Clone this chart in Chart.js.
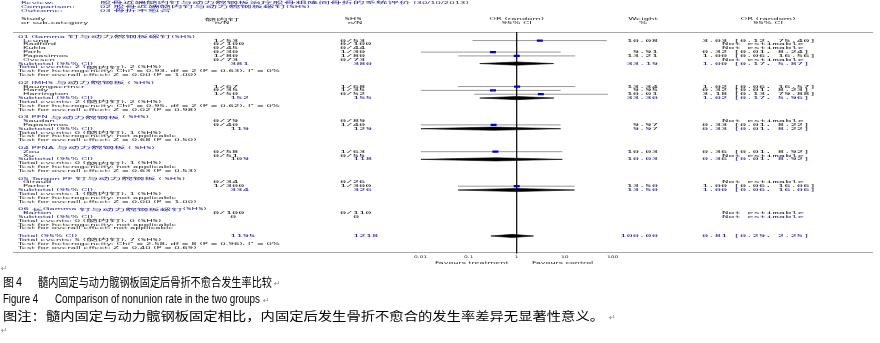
<!DOCTYPE html>
<html>
<head>
<meta charset="utf-8">
<script src="https://cdn.jsdelivr.net/npm/chart.js@4.4.1/dist/chart.umd.min.js"></script>
<style>
  html, body { margin: 0; padding: 0; background: #fff; }
  #forest { display: block; }
</style>
</head>
<body>
<canvas id="forest" width="880" height="343"></canvas>
<script>
// ---- data ----
const reviewTitle = '股骨近端髓内钉与动力髋钢板治疗股骨粗隆间骨折的系统评价 (30/10/2013)';
const comparisonTitle = '02 股骨近端髓内钉与动力髋钢板螺钉(SHS)';
const outcomeTitle = '03 骨折不愈合';

const groupNames = [
  '01 Gamma 钉与动力髋钢板螺钉(SHS)',
  '02 IMHS 与动力髋钢板 ( SHS)',
  '03 PFN 与动力髋钢板 ( SHS)',
  '04 PFNA 与动力髋钢板 ( SHS)',
  '05 Targon PF 钉与动力髋钢板 ( SHS)',
  '06 长Gamma 钉与动力髋钢板螺钉(SHS)'
];

const studyNames = ['Leung', 'Radford', 'Kukla', 'Park', 'Papasimos', 'Ovesen',
  'Baumgaertner', 'Hardy', 'Harrington', 'Saudan', 'Papasimos', 'Zou', 'Xu',
  'Giraud', 'Parker', 'Barton'];
const studyGroup = [0, 0, 0, 0, 0, 0, 1, 1, 1, 2, 2, 3, 3, 4, 4, 5];
const imnEvents = [1, 0, 0, 0, 1, 0, 1, 0, 1, 0, 0, 0, 0, 0, 1, 0];
const imnTotal = [53, 100, 45, 30, 80, 73, 67, 35, 50, 79, 40, 58, 51, 34, 300, 100];
const shsEvents = [0, 0, 0, 1, 1, 0, 1, 1, 0, 0, 1, 1, 0, 0, 1, 0];
const shsTotal = [53, 100, 44, 30, 80, 73, 68, 35, 52, 89, 40, 63, 55, 26, 300, 110];
const studyWeight = [10.08, null, null, 9.91, 13.21, null, 13.34, 9.95, 10.01, null, 9.97, 10.03, null, null, 13.50, null];
const studyOR = [3.03, null, null, 0.32, 1.00, null, 1.02, 0.32, 3.18, null, 0.33, 0.36, null, null, 1.00, null];
const studyLow = [0.12, null, null, 0.01, 0.06, null, 0.06, 0.01, 0.13, null, 0.01, 0.01, null, null, 0.06, null];
const studyHigh = [75.40, null, null, 8.24, 16.56, null, 16.57, 8.23, 79.88, null, 8.22, 8.92, null, null, 16.06, null];

const subN1 = [381, 152, 119, 109, 334, 0];
const subN2 = [380, 155, 129, 118, 326, 0];
const subWeight = [33.19, 33.30, 9.97, 10.03, 13.50, null];
const subOR = [1.00, 1.02, 0.33, 0.36, 1.00, null];
const subLow = [0.17, 0.17, 0.01, 0.01, 0.06, null];
const subHigh = [5.87, 5.96, 8.22, 8.92, 16.06, null];
const subEvents1 = [2, 2, 0, 0, 1, 0];
const subEvents2 = [2, 2, 1, 1, 1, 0];
const heteroTests = ['Chi² = 0.93, df = 2 (P = 0.63), I² = 0%', 'Chi² = 0.95, df = 2 (P = 0.62), I² = 0%',
  'not applicable', 'not applicable', 'not applicable', 'not applicable'];
const overallTests = ['Z = 0.00 (P = 1.00)', 'Z = 0.02 (P = 0.98)', 'Z = 0.68 (P = 0.50)',
  'Z = 0.63 (P = 0.53)', 'Z = 0.00 (P = 1.00)', 'not applicable'];

const totalN1 = 1195;
const totalN2 = 1218;
const totalWeight = 100.00;
const totalOR = [0.81, 0.29, 2.25];
const totalEvents = [5, 7];
const totalHetero = 'Chi² = 2.58, df = 8 (P = 0.96), I² = 0%';
const totalOverall = 'Z = 0.40 (P = 0.69)';

const axisTicks = [0.01, 0.1, 1, 10, 100];

// ---- layout ----
const ROW0 = 31.7;      // pixel of first group header
const PITCH = 3.975;    // pixels per text row
const W = 880, H = 343;
const X = {
  head: 21, group: 18, study: 23, review: 100,
  n1Head: 222, n1Val: 213, n1Sub: 230,
  n2Head: 353, n2Val: 340, n2Sub: 353,
  wHead: 643, wRight: 658,
  orHead: 768, orText: 702, notEst: 763
};
const INK = '#262626';
const NAVY = '#24249a';
const RULE = '#a8a8a8';

// rows: build sequential row indices
const rows = [];
const studyRow = [];
const subRow = [];
let r = 0;
groupNames.forEach((g, gi) => {
  rows.push({ r: r++, kind: 'group', text: g });
  studyNames.forEach((s, si) => {
    if (studyGroup[si] === gi) { studyRow[si] = r; rows.push({ r: r++, kind: 'study', i: si }); }
  });
  subRow[gi] = r;
  rows.push({ r: r++, kind: 'subtotal', g: gi });
  rows.push({ r: r++, kind: 'events', a: subEvents1[gi], b: subEvents2[gi] });
  rows.push({ r: r++, kind: 'stat', text: 'Test for heterogeneity: ' + heteroTests[gi] });
  rows.push({ r: r++, kind: 'stat', text: 'Test for overall effect: ' + overallTests[gi] });
  r++;
});
const totalRow = r;
rows.push({ r: r++, kind: 'total' });
rows.push({ r: r++, kind: 'events', a: totalEvents[0], b: totalEvents[1] });
rows.push({ r: r++, kind: 'stat', text: 'Test for heterogeneity: ' + totalHetero });
rows.push({ r: r++, kind: 'stat', text: 'Test for overall effect: ' + totalOverall });

const pxToRow = p => (p - ROW0) / PITCH;

// ---- datasets ----
const ciData = [];
const squareData = [];
studyNames.forEach((s, i) => {
  if (studyOR[i] == null) return;
  ciData.push({ x: studyLow[i], y: studyRow[i] }, { x: studyHigh[i], y: studyRow[i] }, { x: null, y: null });
  squareData.push({ x: studyOR[i], y: studyRow[i] });
});

const DH = 0.42; // diamond half height in rows
function diamond(est, lo, hi, row) {
  return [{ x: lo, y: row }, { x: est, y: row - DH }, { x: hi, y: row }, { x: est, y: row + DH }, { x: lo, y: row }];
}
const diamondSets = [];
subOR.forEach((v, gi) => {
  if (v == null) return;
  diamondSets.push(diamond(v, subLow[gi], subHigh[gi], subRow[gi]));
});
diamondSets.push(diamond(totalOR[0], totalOR[1], totalOR[2], totalRow));

const datasets = [
  {
    data: squareData, order: 0, pointStyle: 'line', pointRadius: 3,
    pointBorderWidth: 2.2, pointBorderColor: '#0000e0', pointBackgroundColor: '#0000e0'
  },
  {
    data: [{ x: 1, y: pxToRow(26.7) }, { x: 1, y: pxToRow(256.5) }], order: 1, showLine: true,
    borderColor: '#000', borderWidth: 1.2, pointRadius: 0
  },
  ...diamondSets.map(d => ({
    data: d, order: 2, showLine: true, fill: 'shape', borderColor: '#000', borderWidth: 0.6,
    backgroundColor: '#000', pointRadius: 0, tension: 0
  })),
  {
    data: ciData, order: 5, showLine: true, spanGaps: false,
    borderColor: '#999', borderWidth: 1, pointRadius: 0
  }
];

// ---- text helpers ----
const CJK_RE = /([\u2E80-\u9FFF\u3000-\u303F\uFF00-\uFFEF]+)/;
const STYLES = {
  lab: { font: '8.5px "DejaVu Sans"', sy: 0.47, cjk: '11.5px "Noto Sans CJK SC"', cjkSy: 0.34 },
  num: { font: '10.5px "DejaVu Sans Mono"', sy: 0.39, cjk: '11.5px "Noto Sans CJK SC"', cjkSy: 0.34 },
  tick: { font: '6px "DejaVu Sans"', sy: 0.6, cjk: '6px "Noto Sans CJK SC"', cjkSy: 0.6 },
  fav: { font: '8px "DejaVu Sans"', sy: 0.5, cjk: '8px "Noto Sans CJK SC"', cjkSy: 0.5 }
};

function drawText(ctx, str, x, y, align, color, style) {
  const st = STYLES[style || 'lab'];
  const runs = String(str).split(CJK_RE).filter(p => p.length).map(p => {
    const cjk = /[\u2E80-\u9FFF\u3000-\u303F\uFF00-\uFFEF]/.test(p);
    return { text: p, font: cjk ? st.cjk : st.font, sy: cjk ? st.cjkSy : st.sy };
  });
  runs.forEach(run => { ctx.font = run.font; run.w = ctx.measureText(run.text).width; });
  const total = runs.reduce((a, b) => a + b.w, 0);
  let cx = align === 'center' ? x - total / 2 : align === 'right' ? x - total : x;
  ctx.fillStyle = color || INK;
  ctx.textAlign = 'left';
  ctx.textBaseline = 'middle';
  runs.forEach(run => {
    ctx.save();
    ctx.translate(cx, y);
    ctx.scale(1, run.sy);
    ctx.font = run.font;
    ctx.fillText(run.text, 0, 0);
    ctx.restore();
    cx += run.w;
  });
}

// draws a caption piece squeezed to fit [x0, x1]
function drawFit(ctx, str, x0, x1, y, font) {
  ctx.save();
  ctx.font = font;
  ctx.textAlign = 'left';
  ctx.textBaseline = 'middle';
  ctx.fillStyle = '#000';
  const w = ctx.measureText(str).width;
  ctx.translate(x0, y);
  ctx.scale((x1 - x0) / w, 1);
  ctx.fillText(str, 0, 0);
  ctx.restore();
}

const fmtOR = (v, lo, hi) => `${v.toFixed(2)} [${lo.toFixed(2)}, ${hi.toFixed(2)}]`;

const forestText = {
  id: 'forestText',
  beforeDatasetsDraw(chart) {
    const ctx = chart.ctx;
    const y = chart.scales.y;
    ctx.save();
    ctx.strokeStyle = RULE;
    ctx.lineWidth = 1;
    [y.getPixelForValue(pxToRow(26.7)), y.getPixelForValue(pxToRow(255))].forEach(p => {
      ctx.beginPath();
      ctx.moveTo(13, Math.round(p) + 0.5);
      ctx.lineTo(873, Math.round(p) + 0.5);
      ctx.stroke();
    });
    ctx.restore();
  },
  afterDraw(chart) {
    const ctx = chart.ctx;
    const xs = chart.scales.x;
    const ys = chart.scales.y;
    const py = row => ys.getPixelForValue(row);

    // review header
    drawText(ctx, 'Review:', X.head, 2.7, 'left', NAVY);
    drawText(ctx, reviewTitle, X.review, 2.7, 'left', NAVY);
    drawText(ctx, 'Comparison:', X.head, 6.7, 'left', NAVY);
    drawText(ctx, comparisonTitle, X.review, 6.7, 'left', NAVY);
    drawText(ctx, 'Outcome:', X.head, 10.7, 'left', NAVY);
    drawText(ctx, outcomeTitle, X.review, 10.7, 'left', NAVY);

    // column headers
    const h1 = 19.3, h2 = 23.3;
    drawText(ctx, 'Study', X.head, h1, 'left');
    drawText(ctx, 'or sub-category', X.head, h2, 'left');
    drawText(ctx, '髓内钉', X.n1Head, h1, 'center');
    drawText(ctx, 'n/N', X.n1Head, h2, 'center');
    drawText(ctx, 'SHS', X.n2Head, h1, 'center');
    drawText(ctx, 'n/N', X.n2Head + 2, h2, 'center');
    drawText(ctx, 'OR (random)', xs.getPixelForValue(1), h1, 'center');
    drawText(ctx, '95% CI', xs.getPixelForValue(1), h2, 'center');
    drawText(ctx, 'Weight', X.wHead, h1, 'center');
    drawText(ctx, '%', X.wHead, h2, 'center');
    drawText(ctx, 'OR (random)', X.orHead, h1, 'center');
    drawText(ctx, '95% CI', X.orHead, h2, 'center');

    rows.forEach(row => {
      const yy = py(row.r);
      if (row.kind === 'group') {
        drawText(ctx, row.text, X.group, yy, 'left', NAVY);
      } else if (row.kind === 'study') {
        const i = row.i;
        drawText(ctx, studyNames[i], X.study, yy, 'left');
        drawText(ctx, `${imnEvents[i]}/${imnTotal[i]}`, X.n1Val, yy, 'left', INK, 'num');
        drawText(ctx, `${shsEvents[i]}/${shsTotal[i]}`, X.n2Val, yy, 'left', INK, 'num');
        if (studyOR[i] == null) {
          drawText(ctx, 'Not estimable', X.notEst, yy, 'center', INK, 'num');
        } else {
          drawText(ctx, studyWeight[i].toFixed(2), X.wRight, yy, 'right', INK, 'num');
          drawText(ctx, fmtOR(studyOR[i], studyLow[i], studyHigh[i]), X.orText, yy, 'left', INK, 'num');
        }
      } else if (row.kind === 'subtotal') {
        const g = row.g;
        drawText(ctx, 'Subtotal (95% CI)', X.group, yy, 'left', NAVY);
        drawText(ctx, String(subN1[g]), X.n1Sub, yy, 'left', NAVY, 'num');
        drawText(ctx, String(subN2[g]), X.n2Sub, yy, 'left', NAVY, 'num');
        if (subOR[g] == null) {
          drawText(ctx, 'Not estimable', X.notEst, yy, 'center', NAVY, 'num');
        } else {
          drawText(ctx, subWeight[g].toFixed(2), X.wRight, yy, 'right', NAVY, 'num');
          drawText(ctx, fmtOR(subOR[g], subLow[g], subHigh[g]), X.orText, yy, 'left', NAVY, 'num');
        }
      } else if (row.kind === 'total') {
        drawText(ctx, 'Total (95% CI)', X.group, yy, 'left', NAVY);
        drawText(ctx, String(totalN1), X.n1Sub, yy, 'left', NAVY, 'num');
        drawText(ctx, String(totalN2), X.n2Sub, yy, 'left', NAVY, 'num');
        drawText(ctx, totalWeight.toFixed(2), X.wRight, yy, 'right', NAVY, 'num');
        drawText(ctx, fmtOR(totalOR[0], totalOR[1], totalOR[2]), X.orText, yy, 'left', NAVY, 'num');
      } else if (row.kind === 'events') {
        drawText(ctx, `Total events: ${row.a} (髓内钉), ${row.b} (SHS)`, X.group, yy, 'left');
      } else {
        drawText(ctx, row.text, X.group, yy, 'left');
      }
    });

    // axis labels
    axisTicks.forEach(t => {
      drawText(ctx, String(t), xs.getPixelForValue(t), 257.3, 'center', INK, 'tick');
    });
    const mid = xs.getPixelForValue(1);
    drawText(ctx, 'Favours treatment', mid - 45, 262.5, 'center', INK, 'fav');
    drawText(ctx, 'Favours control', mid + 46, 262.5, 'center', INK, 'fav');

    // captions under the figure
    const cjk = '12px "Noto Sans CJK SC"';
    const lat = '13.5px "Liberation Sans Narrow", "Liberation Sans"';
    drawFit(ctx, '图', 3, 14, 282, cjk);
    drawFit(ctx, '4', 16, 22, 282.5, lat);
    drawFit(ctx, '髓内固定与动力髋钢板固定后骨折不愈合发生率比较', 38, 272, 282, cjk);
    drawFit(ctx, 'Figure 4', 3, 38, 299.5, lat);
    drawFit(ctx, 'Comparison of nonunion rate in the two groups', 55, 260, 299.5, lat);
    drawFit(ctx, '图注：髓内固定与动力髋钢板固定相比，内固定后发生骨折不愈合的发生率差异无显著性意义。', 3, 604, 316, cjk);

    ctx.save();
    ctx.fillStyle = '#8a8a8a';
    ctx.font = '8px "DejaVu Sans"';
    ctx.textBaseline = 'middle';
    [[274, 284], [263, 301], [609, 318], [1, 268.5], [1, 331]].forEach(([x, y]) => ctx.fillText('↵', x, y));
    ctx.restore();
  }
};

const X_LEFT = 420.7, X_RIGHT = 612.7;

new Chart(document.getElementById('forest'), {
  type: 'scatter',
  data: { datasets },
  options: {
    responsive: false,
    animation: false,
    events: [],
    layout: { padding: { left: X_LEFT, right: W - X_RIGHT, top: 0, bottom: 0 } },
    scales: {
      x: { type: 'logarithmic', min: axisTicks[0], max: axisTicks[axisTicks.length - 1], display: false },
      y: { type: 'linear', min: pxToRow(0), max: pxToRow(H), reverse: true, display: false }
    },
    plugins: {
      legend: { display: false },
      tooltip: { enabled: false }
    }
  },
  plugins: [forestText]
});
</script>
</body>
</html>
